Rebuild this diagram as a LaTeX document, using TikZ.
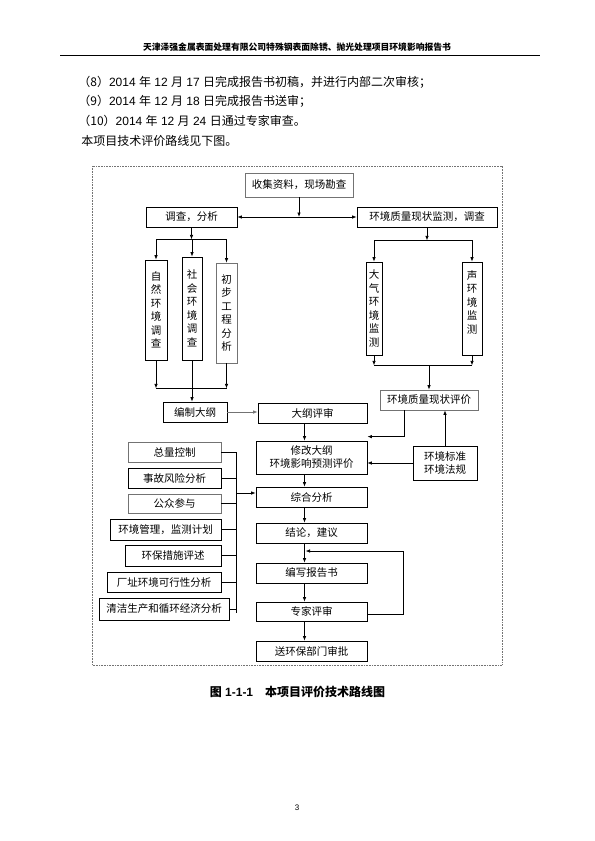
\documentclass[tikz,border=0pt]{standalone}
\usepackage{fontspec}
\setmainfont{Noto Sans CJK SC}
\newfontfamily\lat{Liberation Sans}
\usetikzlibrary{arrows.meta}

\begin{document}
\begin{tikzpicture}[x=1bp,y=-1bp,
		line width=0.75bp,
		arr/.style = {-{Latex[length=4.5bp,width=3.5bp]}},
		arrs/.style = {{Latex[length=4.5bp,width=3.5bp]}-{Latex[length=4.5bp,width=3.5bp]}},
		bx/.style args = {#1/#2}{%
			rectangle, draw, inner sep=0pt, align=center,
			minimum width=#1bp, minimum height=#2bp,
			font=\fontsize{10.5bp}{13bp}\selectfont},
		vb/.style args = {#1/#2}{%
			bx=#1/#2, font=\fontsize{10.5bp}{13.5bp}\selectfont},
		lt/.style = {draw=black!55},
		txt/.style = {anchor=west, inner sep=0pt, font=\fontsize{12bp}{14bp}\selectfont}
		]
		\useasboundingbox (0,0) rectangle (595,841);
		\node (hdr) [inner sep=0pt, font=\bfseries\fontsize{8.8bp}{10bp}\selectfont] at (297,47) {天津泽强金属表面处理有限公司特殊钢表面除锈、抛光处理项目环境影响报告书};
		\draw[line width=0.6bp] (60,55.5) -- (540,55.5);
		\node (l8) [txt] at (78,82) {（8）{\lat 2014 }年{\lat\ 12 }月{\lat\ 17 }日完成报告书初稿，并进行内部二次审核；};
		\node (l9) [txt] at (78,101.5) {（9）{\lat 2014 }年{\lat\ 12 }月{\lat\ 18 }日完成报告书送审；};
		\node (l10) [txt] at (78,121) {（10）{\lat 2014 }年{\lat\ 12 }月{\lat\ 24 }日通过专家审查。};
		\node (l11) [txt] at (81,140.5) {本项目技术评价路线见下图。};
		\draw[black!55, densely dotted, line width=0.6bp] (92,166) rectangle (502,665);
		\node (collect) [bx=108/24, lt] at (299,185) {收集资料，现场勘查};
		\node (survey) [bx=91/20] at (191.5,217) {调查，分析};
		\node (monitor) [bx=140/20] at (427,217) {环境质量现状监测，调查};
		\node (nat) [vb=22/100] at (156,310) {自\\然\\环\\境\\调\\查};
		\node (soc) [vb=20/103] at (192,308.5) {社\\会\\环\\境\\调\\查};
		\node (eng) [vb=21/100, lt] at (226.5,313) {初\\步\\工\\程\\分\\析};
		\node (air) [vb=16/93] at (374,308.5) {大\\气\\环\\境\\监\\测};
		\node (noise) [vb=20/93] at (472,308.5) {声\\环\\境\\监\\测\\~};
		\node (outline) [bx=64/20] at (195,412) {编制大纲};
		\node (review) [bx=109/20] at (312.5,413) {大纲评审};
		\node (qeval) [bx=98/20, lt] at (429,400) {环境质量现状评价};
		\node (revise) [bx=111/33] at (311.5,457.5) {修改大纲\\环境影响预测评价};
		\node (std) [bx=64/34] at (445,463) {环境标准\\环境法规};
		\node (synth) [bx=111/20] at (311.5,497) {综合分析};
		\node (concl) [bx=111/20] at (311.5,533) {结论，建议};
		\node (write) [bx=111/20] at (311.5,573) {编写报告书};
		\node (expert) [bx=111/19] at (311.5,611.5) {专家评审};
		\node (submit) [bx=111/20] at (311.5,651) {送环保部门审批};
		\node (tot) [bx=93/20, lt] at (174.5,452) {总量控制};
		\node (risk) [bx=93/20] at (174.5,478) {事故风险分析};
		\node (pub) [bx=93/19, lt] at (174.5,503.5) {公众参与};
		\node (mgmt) [bx=111/21] at (165.5,529.5) {环境管理，监测计划};
		\node (meas) [bx=96/21] at (173,555.5) {环保措施评述};
		\node (site) [bx=114/20] at (164,582) {厂址环境可行性分析};
		\node (clean) [bx=130/22] at (164,609) {清洁生产和循环经济分析};
		\node (cap) [inner sep=0pt, font=\bfseries\fontsize{12bp}{14bp}\selectfont] at (297.5,692) {图{\lat\ 1-1-1}\hspace{12bp}本项目评价技术路线图};
		\node (pg) [inner sep=0pt, font=\lat\fontsize{8bp}{9bp}\selectfont] at (297,808) {3};
		\coordinate (col) at (304.5,0);
		\coordinate (bus) at (236,0);
		\coordinate (fb) at (305.5,551);
		\draw[arr] (collect.south) -- (collect.south |- survey.east);
		\draw[arrs] (survey.east) -- (monitor.west);
		\draw[arr] (survey.south) -- ++(0,12) coordinate (sj);
		\draw (nat.north |- sj) -- (eng.north |- sj);
		\foreach \b in {nat,soc,eng}
		\draw[arr] (\b.north |- sj) -- (\b.north);
		\draw[arr] (monitor.south) -- ++(0,13) coordinate (mj);
		\draw (air.north |- mj) -- (noise.north |- mj);
		\foreach \b in {air,noise}
		\draw[arr] (\b.north |- mj) -- (\b.north);
		\draw[arr] (air.south) -- ++(0,10) coordinate (aj);
		\draw[arr] (noise.south) -- (noise.south |- aj);
		\draw (air.south |- aj) -- (noise.south |- aj);
		\draw[arr] (qeval.north |- aj) -- (qeval.north);
		\draw[arr] (nat.south) -- ++(0,28) coordinate (nj);
		\draw[arr] (eng.south) -- (eng.south |- nj);
		\draw (nat.south |- nj) -- (eng.south |- nj);
		\draw[arr] (soc.south) -- (soc.south |- outline.north);
		\draw[arr, black!55] (outline.east) -- (outline.east -| review.west);
		\draw[arr] ([xshift=-25bp]qeval.south) |- ([yshift=4bp]revise.north east);
		\draw[arr] (std.north) -- (std.north |- qeval.south);
		\draw[arr] (std.west) -- (std.west -| revise.east);
		\foreach \from/\to in {review/revise,revise/synth,synth/concl,concl/write,write/expert,expert/submit}
		\draw[arr] (\from.south -| col) -- (\to.north -| col);
		\draw[arr] ([yshift=-2.5bp]expert.east) -- ++(36,0) |- (fb);
		\foreach \b in {tot,risk,pub,mgmt,meas,site,clean}
		\draw (\b.east) -- (\b.east -| bus);
		\draw (tot.east -| bus) -- ([yshift=-4bp]clean.east -| bus);
		\draw[arr] ([yshift=4bp]synth.west -| bus) -- ([yshift=4bp]synth.west);
\end{tikzpicture}
\end{document}
